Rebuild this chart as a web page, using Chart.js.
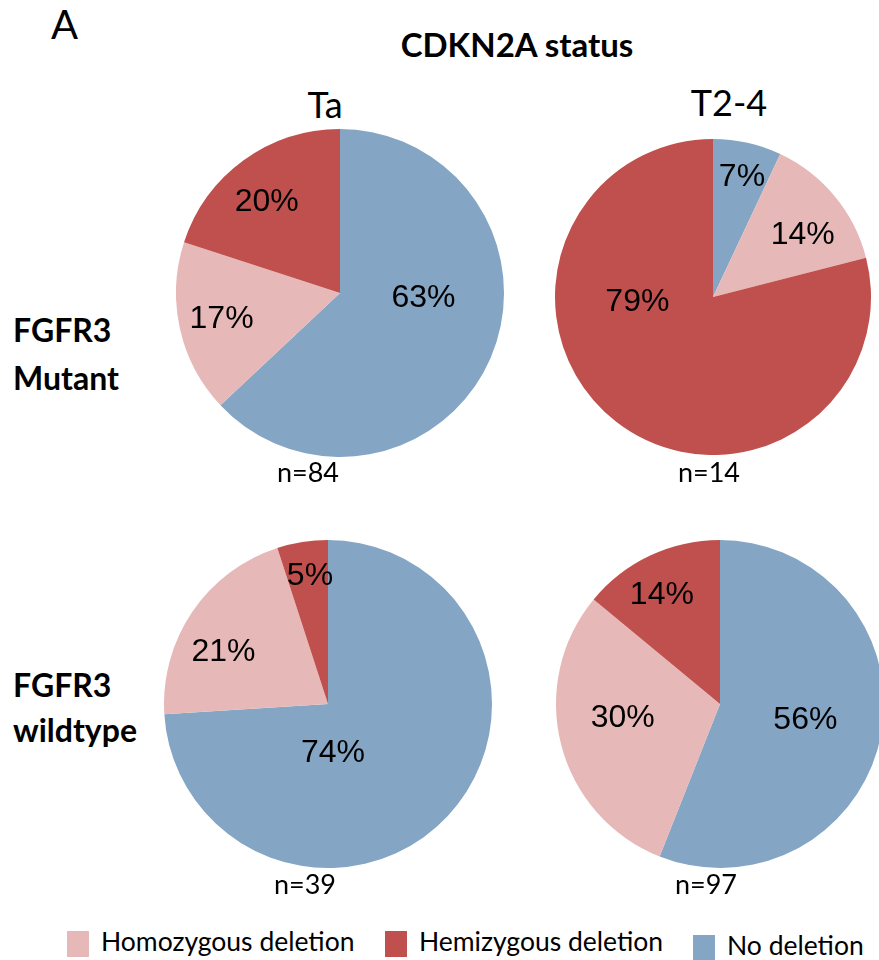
<!DOCTYPE html>
<html>
<head>
<meta charset="utf-8">
<script src="https://cdn.jsdelivr.net/npm/chart.js@4/dist/chart.umd.min.js"></script>
<style>
  html, body { margin: 0; padding: 0; background: #fff; }
  body { width: 879px; height: 960px; position: relative; overflow: hidden; font-family: Lato, sans-serif; color: #000; }
  .t { position: absolute; white-space: nowrap; transform: translate(-50%, -50%); }
  .l { position: absolute; white-space: nowrap; }
  .pie { position: absolute; }
  .sw { position: absolute; width: 22px; height: 26px; }
</style>
</head>
<body>
<div class="l" style="left:51px;top:0px;font-size:40px;">A</div>
<div class="t" style="left:517px;top:44px;font-size:33px;font-weight:bold;">CDKN2A status</div>
<div class="t" style="left:325px;top:104px;font-size:36px;">Ta</div>
<div class="t" style="left:729px;top:102px;font-size:36px;">T2-4</div>
<div class="l" style="left:13px;top:306px;font-size:32px;font-weight:bold;line-height:48px;">FGFR3<br>Mutant</div>
<div class="l" style="left:13px;top:662px;font-size:32px;font-weight:bold;line-height:45px;">FGFR3<br>wildtype</div>

<canvas id="c0" class="pie" width="328" height="328" style="left:176px;top:129px;"></canvas>
<canvas id="c1" class="pie" width="316" height="316" style="left:555px;top:139px;"></canvas>
<canvas id="c2" class="pie" width="328" height="328" style="left:164px;top:540px;"></canvas>
<canvas id="c3" class="pie" width="328" height="328" style="left:556px;top:540px;"></canvas>

<div class="t" id="n0" style="left:308px;top:471px;font-size:27px;"></div>
<div class="t" id="n1" style="left:709px;top:471px;font-size:27px;"></div>
<div class="t" id="n2" style="left:305px;top:883px;font-size:27px;"></div>
<div class="t" id="n3" style="left:706px;top:883px;font-size:27px;"></div>

<div class="sw" style="left:67px;top:931px;background:#E6B9B8;"></div>
<div class="l" style="left:101px;top:925px;font-size:26.5px;">Homozygous deletion</div>
<div class="sw" style="left:385px;top:931px;background:#C0504D;"></div>
<div class="l" style="left:419px;top:925px;font-size:26.5px;">Hemizygous deletion</div>
<div class="sw" style="left:693px;top:935px;background:#84A5C3;"></div>
<div class="l" style="left:727px;top:929px;font-size:26.5px;">No deletion</div>

<script>
// slice order clockwise from 12 o'clock
const categories = ['No deletion', 'Homozygous deletion', 'Hemizygous deletion'];
const colors = ['#84A5C3', '#E6B9B8', '#C0504D'];

// percentages per panel
const taMutant = [63, 17, 20];
const t24Mutant = [7, 14, 79];
const taWildtype = [74, 21, 5];
const t24Wildtype = [56, 30, 14];

const sampleSizes = [84, 14, 39, 97];

// label placement: [fraction of radius, degrees shifted from slice middle]
const labelPlace = [
  [[0.51, -20], [0.74, 0], [0.71, -3]],
  [[0.78, 1], [0.69, 5], [0.48, 48]],
  [[0.30, 41], [0.71, -8], [0.79, 1]],
  [[0.53, 0], [0.60, 6], [0.75, -3]]
];

const pctLabels = {
  id: 'pctLabels',
  afterDatasetsDraw(chart, args, opts) {
    const ctx = chart.ctx;
    const meta = chart.getDatasetMeta(0);
    const values = chart.data.datasets[0].data;
    ctx.save();
    ctx.font = '32px "Liberation Sans", Arial, sans-serif';
    ctx.fillStyle = '#000';
    ctx.textAlign = 'center';
    ctx.textBaseline = 'middle';
    meta.data.forEach((arc, i) => {
      const p = opts.place[i];
      const mid = (arc.startAngle + arc.endAngle) / 2 + p[1] * Math.PI / 180;
      const r = arc.outerRadius * p[0];
      ctx.fillText(values[i] + '%', arc.x + Math.cos(mid) * r, arc.y + Math.sin(mid) * r);
    });
    ctx.restore();
  }
};

function makePie(id, values, place) {
  return new Chart(document.getElementById(id), {
    type: 'pie',
    data: {
      labels: categories,
      datasets: [{
        data: values,
        backgroundColor: colors,
        borderWidth: 0
      }]
    },
    options: {
      responsive: false,
      animation: false,
      layout: { padding: 0 },
      plugins: {
        legend: { display: false },
        tooltip: { enabled: false },
        pctLabels: { place: place }
      }
    },
    plugins: [pctLabels]
  });
}

makePie('c0', taMutant, labelPlace[0]);
makePie('c1', t24Mutant, labelPlace[1]);
makePie('c2', taWildtype, labelPlace[2]);
makePie('c3', t24Wildtype, labelPlace[3]);

sampleSizes.forEach((n, i) => {
  document.getElementById('n' + i).textContent = 'n=' + n;
});
</script>
</body>
</html>
